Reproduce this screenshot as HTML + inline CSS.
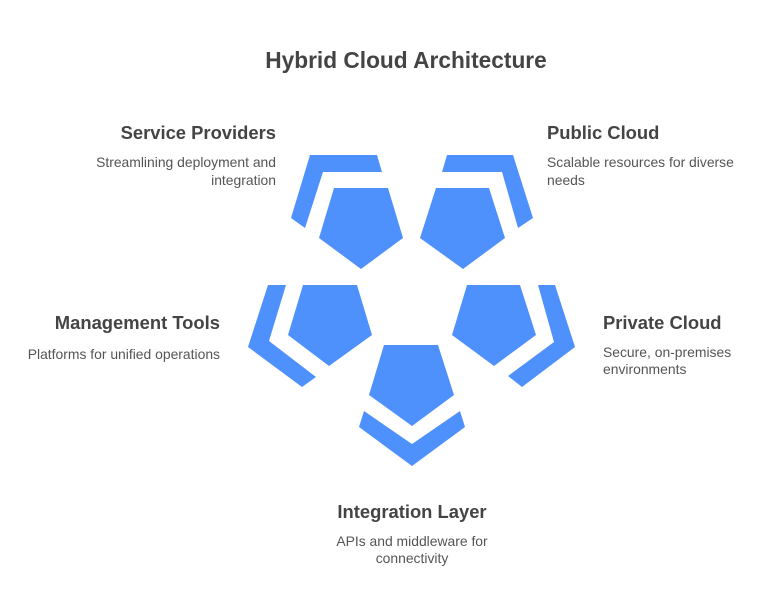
<!DOCTYPE html>
<html><head><meta charset="utf-8"><style>
html,body{margin:0;padding:0;background:#fff;}
svg{display:block;}
.t{font-family:"Liberation Sans",sans-serif;font-weight:bold;fill:#444;}
.d{font-family:"Liberation Sans",sans-serif;font-size:13.9px;fill:#555;}
</style></head><body>
<svg width="768" height="612" viewBox="0 0 768 612" xmlns="http://www.w3.org/2000/svg">
<text class="t" x="406" y="68" font-size="22.7" text-anchor="middle">Hybrid Cloud Architecture</text>
<g fill="#4f91fc">
<polygon points="334,188 388,188 403,238 361,269 319,238"/>
<polygon points="310,155 377,155 382,172 323,172 305,228 291,218"/>
<polygon points="436,188 489,188 505,238 463,269 420,238"/>
<polygon points="447,155 513,155 533,218 518,228 502,172 442,172"/>
<polygon points="303,285 357,285 372,335 329,366 288,335"/>
<polygon points="268,285 286,285 269,341 316,377 302,387 248,347"/>
<polygon points="467,285 520,285 536,335 494,366 452,335"/>
<polygon points="538,285 555,285 575,347 522,387 508,376 554,342"/>
<polygon points="384,345 438,345 454,395 412,426 369,395"/>
<polygon points="364,411 412,444 460,411 465,427 412,466 359,427"/>
</g>
<text class="t" x="276" y="139" font-size="18.4" text-anchor="end">Service Providers</text>
<text class="d" x="276" y="167" text-anchor="end">Streamlining deployment and</text>
<text class="d" x="276" y="185" text-anchor="end">integration</text>
<text class="t" x="547" y="139" font-size="18.4">Public Cloud</text>
<text class="d" x="547" y="167">Scalable resources for diverse</text>
<text class="d" x="547" y="185">needs</text>
<text class="t" x="220" y="329" font-size="18.4" text-anchor="end">Management Tools</text>
<text class="d" x="220" y="359" text-anchor="end">Platforms for unified operations</text>
<text class="t" x="603" y="329" font-size="18.4">Private Cloud</text>
<text class="d" x="603" y="357">Secure, on-premises</text>
<text class="d" x="603" y="374">environments</text>
<text class="t" x="412" y="518" font-size="18.4" text-anchor="middle">Integration Layer</text>
<text class="d" x="412" y="546" text-anchor="middle">APIs and middleware for</text>
<text class="d" x="412" y="563" text-anchor="middle">connectivity</text>
</svg>
</body></html>
